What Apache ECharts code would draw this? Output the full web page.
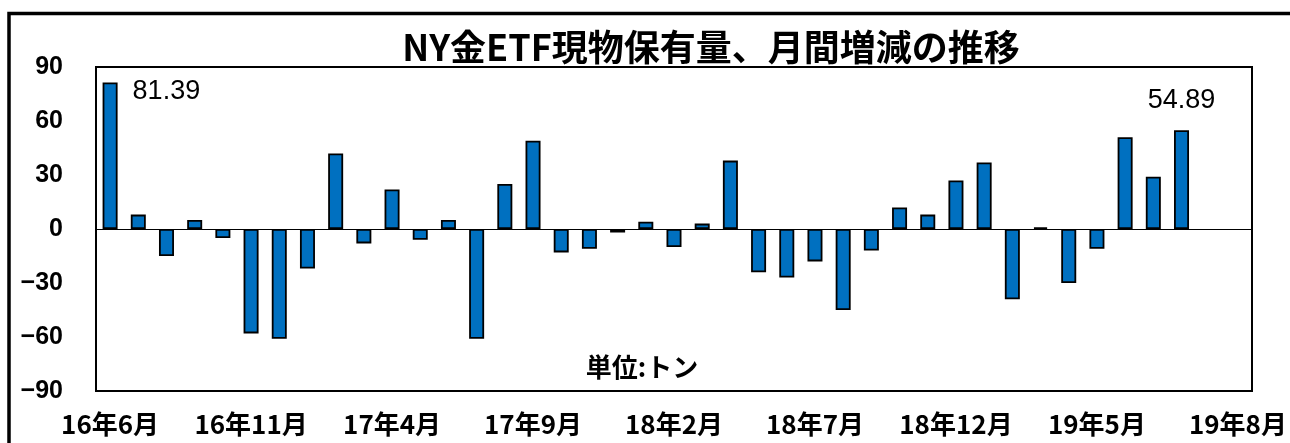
<!DOCTYPE html>
<html>
<head>
<meta charset="utf-8">
<script src="https://cdn.jsdelivr.net/npm/echarts@6/dist/echarts.min.js"></script>
<style>html,body{margin:0;padding:0;background:#fff;}#c{width:1290px;height:443px;}</style>
</head>
<body>
<div id="c"></div>
<script>
// Months (16年6月 .. 19年8月) plus two empty trailing slots as in the reference axis
const categories = [
  "16年6月","16年7月","16年8月","16年9月","16年10月","16年11月","16年12月",
  "17年1月","17年2月","17年3月","17年4月","17年5月","17年6月","17年7月","17年8月","17年9月","17年10月","17年11月","17年12月",
  "18年1月","18年2月","18年3月","18年4月","18年5月","18年6月","18年7月","18年8月","18年9月","18年10月","18年11月","18年12月",
  "19年1月","19年2月","19年3月","19年4月","19年5月","19年6月","19年7月","19年8月","",""
];
const values = [
  81.39, 8, -15, 5, -5, -58, -61,
  -22, 42, -8, 22, -6, 5, -61, 25, 49, -13, -11, -2,
  4, -10, 3, 38, -24, -27, -18, -45, -12, 12, 8, 27,
  37, -39, 1, -30, -11, 51, 29, 54.89
];
const tickLabels = ["16年6月","16年11月","17年4月","17年9月","18年2月","18年7月","18年12月","19年5月","19年8月"];
const yTicks = [-90, -60, -30, 0, 30, 60, 90];
const titleText = "NY金ETF現物保有量、月間増減の推移";
const unitText = "単位:トン";

const valueLabelStyle = { fontFamily: 'Liberation Sans', fontSize: 27, color: '#000', formatter: '{c}' };
const seriesData = values.map((v, i) => {
  const item = { value: v };
  if (i === 0) {
    item.label = Object.assign({ show: true, position: [30, -4], align: 'left', verticalAlign: 'top' }, valueLabelStyle);
  } else if (i === values.length - 1) {
    item.label = Object.assign({ show: true, position: 'top', distance: 16 }, valueLabelStyle);
  }
  return item;
});

const chart = echarts.init(document.getElementById('c'));
chart.setOption({
  backgroundColor: '#fff',
  animation: false,
  grid: { left: 96, top: 67, right: 38, bottom: 52, show: true, borderColor: '#000', borderWidth: 2, containLabel: false },
  xAxis: {
    type: 'category',
    data: categories,
    boundaryGap: true,
    axisLine: { show: false },
    axisTick: { show: false },
    splitLine: { show: false },
    axisLabel: {
      interval: 0,
      margin: 20,
      fontFamily: 'Noto Sans CJK JP',
      fontWeight: 'bold',
      fontSize: 26,
      color: '#000',
      formatter: (val, idx) => (idx % 5 === 0 ? (tickLabels[idx / 5] || '') : '')
    }
  },
  yAxis: {
    type: 'value',
    min: yTicks[0],
    max: yTicks[yTicks.length - 1],
    interval: 30,
    axisLine: { show: false },
    axisTick: { show: false },
    splitLine: { show: false },
    axisLabel: {
      margin: 33,
      fontFamily: 'Liberation Sans',
      fontWeight: 'bold',
      fontSize: 25,
      color: '#000',
      formatter: v => String(v).replace('-', '\u2212')
    }
  },
  series: [{
    type: 'bar',
    data: seriesData,
    barWidth: 15,
    itemStyle: { color: '#0070C0', borderColor: '#000', borderWidth: 1.8 },
    label: { show: false },
    markLine: {
      silent: true,
      symbol: 'none',
      label: { show: false },
      lineStyle: { color: '#000', width: 1, type: 'solid' },
      data: [{ yAxis: 0 }]
    }
  }],
  graphic: [
    {
      type: 'polyline',
      shape: { points: [[9, 460], [9, 13.5], [1300, 13.5]] },
      style: { stroke: '#000', lineWidth: 3.5, fill: null },
      silent: true
    },
    {
      type: 'text',
      style: {
        text: titleText,
        x: 711, y: 47,
        align: 'center', verticalAlign: 'middle',
        font: 'bold 36px "Noto Sans CJK JP"',
        fill: '#000'
      },
      silent: true
    },
    {
      type: 'text',
      style: {
        text: unitText,
        x: 642, y: 367,
        align: 'center', verticalAlign: 'middle',
        font: 'bold 26px "Noto Sans CJK JP"',
        fill: '#000'
      },
      silent: true
    }
  ]
});
</script>
</body>
</html>
